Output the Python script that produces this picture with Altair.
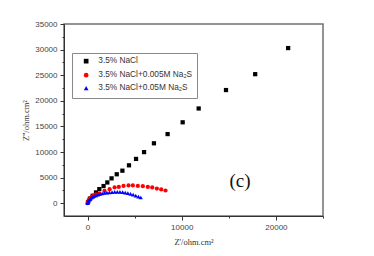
import altair as alt
import pandas as pd

# Nyquist data (Z' real, Z'' imaginary), ohm.cm^2
nacl_x = [50, 250, 550, 900, 1250, 1700, 2100, 2550, 3100, 3700, 4400, 5150,
          6000, 7050, 8500, 10100, 11800, 14700, 17800, 21300]
nacl_y = [200, 900, 1450, 2100, 2750, 3350, 4050, 4850, 5650, 6350, 7400, 8650,
          9980, 11700, 13500, 15800, 18500, 22100, 25200, 30300]

low_x = [0, 60, 150, 280, 450, 650, 900, 1270, 1800, 2340, 2870, 3320, 3820,
         4350, 4810, 5340, 5870, 6400, 6870, 7360, 7820, 8280]
low_y = [0, 350, 700, 1000, 1280, 1520, 1720, 1890, 2400, 2730, 3070, 3180,
         3380, 3460, 3460, 3380, 3320, 3180, 3070, 2870, 2680, 2480]

high_x = [0, 50, 120, 200, 300, 420, 560, 720, 900, 1100, 1320, 1560, 1800,
          2060, 2320, 2600, 2880, 3160, 3440, 3720, 4000, 4280, 4560, 4840,
          5120, 5400, 5650]
high_y = [0, 250, 480, 700, 900, 1080, 1250, 1400, 1540, 1670, 1790, 1900,
          1990, 2070, 2130, 2180, 2210, 2220, 2200, 2150, 2070, 1960, 1820,
          1660, 1480, 1300, 1120]

series_names = ["3.5% NaCl", "3.5% NaCl+0.005M Na₂S", "3.5% NaCl+0.05M Na₂S"]
series_colors = ["#000000", "#ff0000", "#0000ff"]
series_shapes = ["square", "circle", "triangle-up"]

x_ticks = [0, 5000, 10000, 15000, 20000, 25000]
y_ticks = [v * 2500 for v in range(0, 15)]

rows = []
for name, xs, ys in zip(series_names, [nacl_x, low_x, high_x], [nacl_y, low_y, high_y]):
    for a, b in zip(xs, ys):
        rows.append({"zr": a, "zi": b, "series": name})
df = pd.DataFrame(rows)

tick_len = {"condition": {"test": "datum.value % 10000 !== 0", "value": 2}, "value": 4}
ytick_len = {"condition": {"test": "datum.value % 5000 !== 0", "value": 2}, "value": 4}

points = alt.Chart(df).mark_point(filled=True, opacity=1, size=18).encode(
    x=alt.X("zr:Q", scale=alt.Scale(domain=[-2500, 25000], nice=False, zero=False),
            axis=alt.Axis(values=x_ticks, title="Z'/ohm.cm²", grid=False,
                          labelExpr="datum.value % 10000 === 0 && datum.value < 25000 ? datum.label : ''",
                          format="d", tickSize=tick_len, labelPadding=3, titlePadding=6)),
    y=alt.Y("zi:Q", scale=alt.Scale(domain=[-2500, 35000], nice=False, zero=False),
            axis=alt.Axis(values=y_ticks, title="Z''/ohm.cm²", grid=False,
                          labelExpr="datum.value % 5000 === 0 ? datum.label : ''",
                          format="d", tickSize=ytick_len, labelPadding=3, titlePadding=4)),
    color=alt.Color("series:N", scale=alt.Scale(domain=series_names, range=series_colors),
                    legend=alt.Legend(title=None, orient="none", legendX=8, legendY=29,
                                      strokeColor="#888", padding=4, fillColor="white",
                                      labelFont="Liberation Sans", labelFontSize=8.3,
                                      labelColor="#333", symbolSize=22, rowPadding=2,
                                      symbolOffset=6, labelOffset=8,
                                      symbolOpacity=1)),
    shape=alt.Shape("series:N", scale=alt.Scale(domain=series_names, range=series_shapes)),
    order=alt.Order("series:N"),
)

label = alt.Chart(pd.DataFrame({"t": ["(c)"]})).mark_text(
    font="Liberation Serif", fontSize=19, color="#111"
).encode(x=alt.value(176), y=alt.value(157), text="t:N")

chart = alt.layer(points, label).properties(
    width=259, height=192,
    autosize=alt.AutoSizeParams(type="none"),
    padding={"left": 64, "top": 24, "right": 51, "bottom": 40},
    background="white",
).configure_view(stroke="#707070", strokeWidth=1.5).configure_axis(
    domainColor="#333", tickColor="#333", labelFont="Liberation Sans",
    labelFontSize=8, labelColor="#444", titleFont="Liberation Serif",
    titleFontSize=8.5, titleColor="#333", titleFontWeight="normal",
)

chart.save("out.html", embed_options={"renderer": "svg", "actions": False})
